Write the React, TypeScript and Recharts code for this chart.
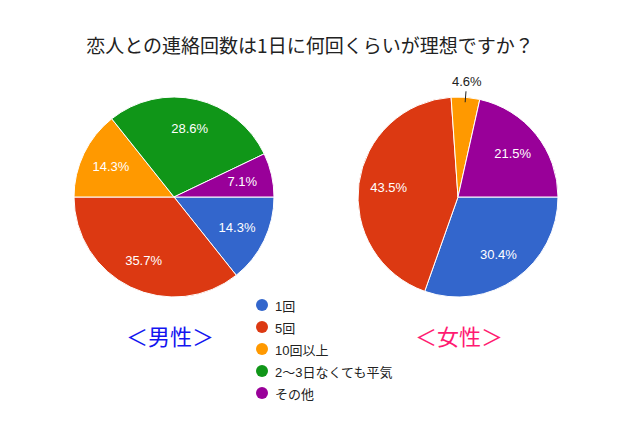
import React from "react";
import { PieChart, Pie, Cell, Legend } from "recharts";

const categories = ["1回", "5回", "10回以上", "2〜3日なくても平気", "その他"];
const colors = ["#3366cc", "#dc3912", "#ff9900", "#109618", "#990099"];
const maleValues = [14.3, 35.7, 14.3, 28.6, 7.1];
const femaleValues = [30.4, 43.5, 4.6, 0, 21.5];

const title = "恋人との連絡回数は1日に何回くらいが理想ですか？";
const maleLabel = "＜男性＞";
const femaleLabel = "＜女性＞";

const RAD = Math.PI / 180;
const jpFont = "'Liberation Sans', 'Noto Sans CJK JP', sans-serif";

const toRows = (values: number[]) =>
  categories
    .map((name, i) => ({ name, value: values[i], color: colors[i] }))
    .filter((d) => d.value > 0);

const maleData = toRows(maleValues);
const femaleData = toRows(femaleValues);

const renderLabel = (props: any) => {
  const { cx, cy, midAngle, outerRadius, value } = props;
  const cos = Math.cos(-midAngle * RAD);
  const sin = Math.sin(-midAngle * RAD);
  const text = `${value.toFixed(1)}%`;
  if (value < 5) {
    const tr = outerRadius + 16;
    return (
      <g>
        <line
          x1={cx + (outerRadius - 5) * cos}
          y1={cy + (outerRadius - 5) * sin}
          x2={cx + (outerRadius + 6) * cos}
          y2={cy + (outerRadius + 6) * sin}
          stroke="#222"
          strokeWidth={1}
        />
        <text
          x={cx + tr * cos}
          y={cy + tr * sin}
          fill="#222"
          fontSize={13}
          fontFamily={jpFont}
          textAnchor="middle"
          dominantBaseline="central"
        >
          {text}
        </text>
      </g>
    );
  }
  const r = outerRadius * 0.7;
  return (
    <text
      x={cx + r * cos}
      y={cy + r * sin}
      fill="#fff"
      fontSize={13}
      fontFamily={jpFont}
      textAnchor="middle"
      dominantBaseline="central"
    >
      {text}
    </text>
  );
};

const LegendList = () => (
  <div style={{ fontFamily: jpFont, fontSize: 13, color: "#222" }}>
    {categories.map((name, i) => (
      <div key={name} style={{ display: "flex", alignItems: "center", height: 22 }}>
        <span
          style={{
            display: "inline-block",
            width: 12,
            height: 12,
            borderRadius: 6,
            background: colors[i],
            marginRight: 7,
          }}
        />
        {name}
      </div>
    ))}
  </div>
);

export default function App() {
  return (
    <div style={{ position: "absolute", left: 0, top: 0, width: 640, height: 425, background: "#fff" }}>
      <div
        style={{
          position: "absolute",
          left: 0,
          width: 620,
          top: 33,
          textAlign: "center",
          fontFamily: "'Noto Sans CJK JP', sans-serif",
          fontSize: 19,
          color: "#222",
          lineHeight: "24px",
        }}
      >
        {title}
      </div>
      <PieChart
        width={640}
        height={425}
        margin={{ top: 0, right: 0, bottom: 0, left: 0 }}
        style={{ position: "absolute", left: 0, top: 0 }}
      >
        <Pie
          data={maleData}
          dataKey="value"
          nameKey="name"
          cx={174}
          cy={197}
          outerRadius={100}
          startAngle={0}
          endAngle={-360}
          stroke="#fff"
          strokeWidth={1}
          label={renderLabel}
          labelLine={false}
          isAnimationActive={false}
        >
          {maleData.map((d) => (
            <Cell key={d.name} fill={d.color} />
          ))}
        </Pie>
        <Pie
          data={femaleData}
          dataKey="value"
          nameKey="name"
          cx={458}
          cy={197}
          outerRadius={100}
          startAngle={0}
          endAngle={-360}
          stroke="#fff"
          strokeWidth={1}
          label={renderLabel}
          labelLine={false}
          isAnimationActive={false}
        >
          {femaleData.map((d) => (
            <Cell key={d.name} fill={d.color} />
          ))}
        </Pie>
        <Legend
          content={() => <LegendList />}
          wrapperStyle={{ position: "absolute", left: 256, top: 294, width: 200, bottom: "auto" }}
        />
      </PieChart>
      <div
        style={{
          position: "absolute",
          left: 70,
          width: 200,
          top: 321,
          textAlign: "center",
          fontFamily: "'Noto Sans CJK JP', sans-serif",
          fontSize: 22,
          color: "#1414f0",
          lineHeight: "28px",
        }}
      >
        {maleLabel}
      </div>
      <div
        style={{
          position: "absolute",
          left: 359,
          width: 200,
          top: 321,
          textAlign: "center",
          fontFamily: "'Noto Sans CJK JP', sans-serif",
          fontSize: 22,
          color: "#ff1a72",
          lineHeight: "28px",
        }}
      >
        {femaleLabel}
      </div>
    </div>
  );
}
